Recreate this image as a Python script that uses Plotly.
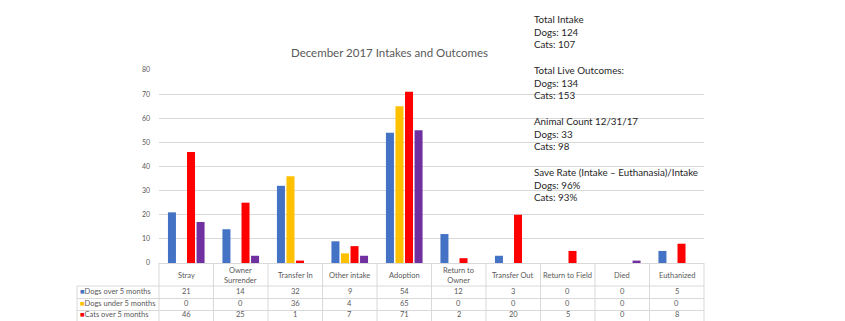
import plotly.graph_objects as go

categories = ["Stray", "Owner Surrender", "Transfer In", "Other intake", "Adoption",
              "Return to Owner", "Transfer Out", "Return to Field", "Died", "Euthanized"]
header_labels = ["Stray", "Owner<br>Surrender", "Transfer In", "Other intake", "Adoption",
                 "Return to<br>Owner", "Transfer Out", "Return to Field", "Died", "Euthanized"]
series_names = ["Dogs over 5 months", "Dogs under 5 months", "Cats over 5 months", "Cats under 5 months"]
dogs_over = [21, 14, 32, 9, 54, 12, 3, 0, 0, 5]
dogs_under = [0, 0, 36, 4, 65, 0, 0, 0, 0, 0]
cats_over = [46, 25, 1, 7, 71, 2, 20, 5, 0, 8]
cats_under = [17, 3, 0, 3, 55, 0, 0, 0, 1, 0]
colors = ["#4472C4", "#FFC000", "#FF0000", "#7030A0"]
title_text = "December 2017 Intakes and Outcomes"
info_lines = ["Total Intake", "Dogs: 124", "Cats: 107", "",
              "Total Live Outcomes:", "Dogs: 134", "Cats: 153", "",
              "Animal Count 12/31/17", "Dogs: 33", "Cats: 98", "",
              "Save Rate (Intake \u2013 Euthanasia)/Intake", "Dogs: 96%", "Cats: 93%"]

# only the first three table rows fit in the visible page (the reference crops the rest)
visible_rows = 3
all_series = [dogs_over, dogs_under, cats_over, cats_under]
FONT = "Lato"
GRAY = "#595959"
GRID = "#d9d9d9"

W, H = 845, 321
L, R, T, B = 159, 141, 70, 58
PW = W - L - R
PH = H - T - B

def px_y(py):
    return (H - B - py) / PH

def px_x(px):
    return (px - L) / PW

fig = go.Figure()
for name, vals, c in zip(series_names, all_series, colors):
    fig.add_trace(go.Bar(name=name, x=categories, y=vals, marker=dict(color=c, line=dict(width=0)),
                         showlegend=False))

shapes = []
row_lines = [263.5, 286, 298.5, 310.5]
for i, yy in enumerate(row_lines):
    x0 = px_x(159) if i == 0 else px_x(77)
    shapes.append(dict(type="line", xref="paper", yref="paper", x0=x0, x1=1, y0=px_y(yy), y1=px_y(yy),
                       line=dict(color=GRID, width=1)))
for k in range(11):
    xx = px_x(159 + k * PW / 10)
    shapes.append(dict(type="line", xref="paper", yref="paper", x0=xx, x1=xx, y0=px_y(263), y1=px_y(330),
                       line=dict(color=GRID, width=1)))
shapes.append(dict(type="line", xref="paper", yref="paper", x0=px_x(77), x1=px_x(77), y0=px_y(286), y1=px_y(330),
                   line=dict(color=GRID, width=1)))

annotations = []
for cat, lab in zip(categories, header_labels):
    annotations.append(dict(x=cat, xref="x", y=px_y(275), yref="paper", text=lab, showarrow=False,
                            font=dict(family=FONT, size=7.5, color=GRAY), xanchor="center", yanchor="middle"))
row_centers = [291.5, 303.5, 314.8]
for name, vals, c, yc in list(zip(series_names, all_series, colors, row_centers))[:visible_rows]:
    annotations.append(dict(x=px_x(79), xref="paper", y=px_y(yc), yref="paper",
                            text=f"<span style='color:{c}'>\u25a0</span>{name}", showarrow=False, borderpad=0,
                            font=dict(family=FONT, size=7.5, color=GRAY), xanchor="left", yanchor="middle"))
    for cat, v in zip(categories, vals):
        annotations.append(dict(x=cat, xref="x", y=px_y(yc), yref="paper", text=str(v), showarrow=False,
                                borderpad=0,
                                font=dict(family=FONT, size=7.5, color=GRAY), xanchor="center", yanchor="middle"))

annotations.append(dict(x=px_x(389), xref="paper", y=px_y(53), yref="paper", text=title_text, showarrow=False,
                        font=dict(family=FONT, size=11.5, color=GRAY), xanchor="center", yanchor="middle"))
annotations.append(dict(x=px_x(532), xref="paper", y=px_y(10.5), yref="paper", text="<br>".join(info_lines),
                        showarrow=False, align="left",
                        font=dict(family=FONT, size=9.8, color="#262626"), xanchor="left", yanchor="top"))

fig.update_layout(
    width=W, height=H,
    margin=dict(l=L, r=R, t=T, b=B),
    paper_bgcolor="white", plot_bgcolor="white",
    barmode="group", bargap=0.3, bargroupgap=0.16,
    shapes=shapes, annotations=annotations,
    font=dict(family=FONT, color=GRAY),
)
fig.update_xaxes(showticklabels=False, showgrid=False, zeroline=False, showline=False, ticks="")
fig.update_yaxes(range=[0, 80], dtick=10, showgrid=True, gridcolor=GRID, gridwidth=1, zeroline=False,
                 showline=False, tickfont=dict(family=FONT, size=7, color=GRAY), ticks="", ticklen=0,
                 ticklabelstandoff=8)

fig.write_html("out.html")
